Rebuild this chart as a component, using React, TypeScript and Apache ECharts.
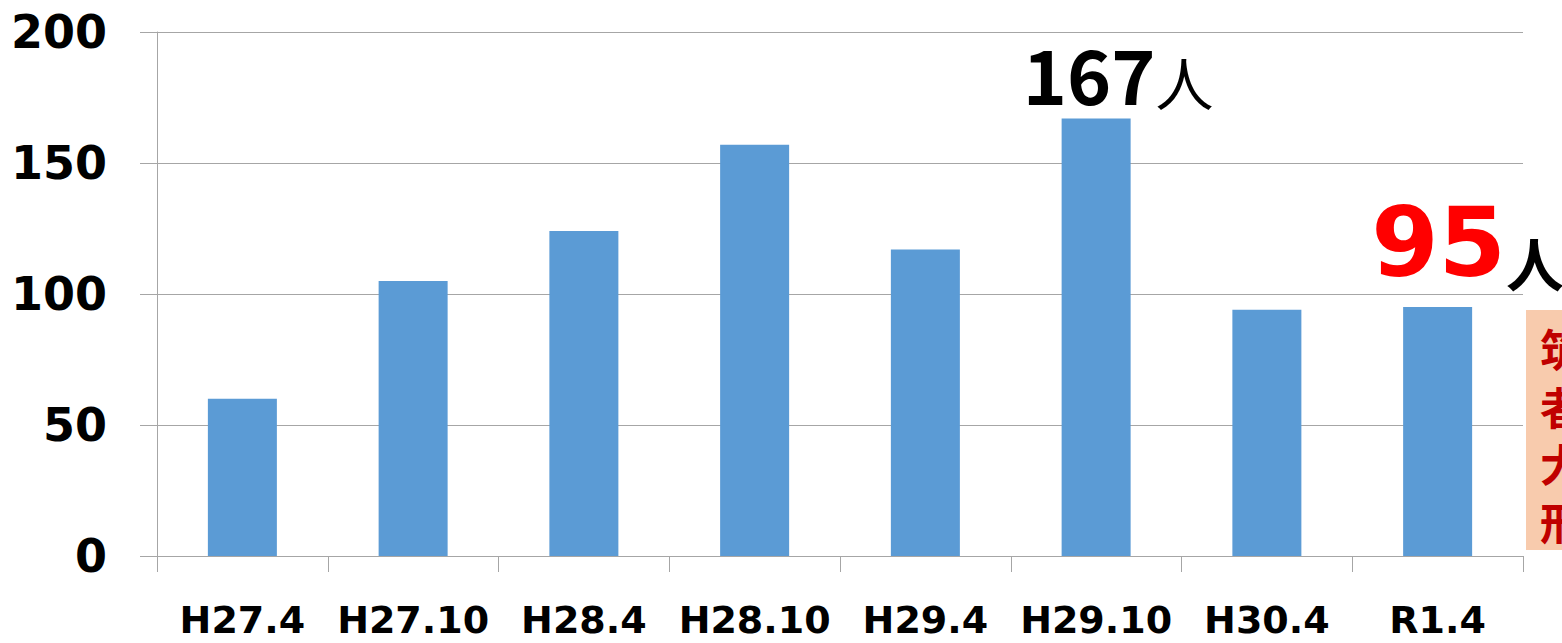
import React, { useEffect, useRef } from "react";
import * as echarts from "echarts";

const categories = ["H27.4", "H27.10", "H28.4", "H28.10", "H29.4", "H29.10", "H30.4", "R1.4"];
const values = [60, 105, 124, 157, 117, 167, 94, 95];
const yMin = 0;
const yMax = 200;
const yStep = 50;
const unitText = "人";
const peakIndex = 5;
const latestIndex = 7;
const boxChars = ["筑", "者", "大", "形"];

const GRAY = "#a6a6a6";

export default function App() {
  const ref = useRef<HTMLDivElement>(null);
  useEffect(() => {
    document.body.style.margin = "0";
    if (!ref.current) return;
    const chart = echarts.init(ref.current, undefined, { renderer: "svg" });

    const data = values.map((v, i) => {
      if (i === peakIndex) {
        return {
          value: v,
          label: {
            show: true,
            position: "top",
            distance: 8,
            offset: [22, 0],
            formatter: `{n|${v}}{u|${unitText}}`,
            rich: {
              n: {
                fontFamily: "Noto Sans CJK JP",
                fontWeight: "bold",
                fontSize: 75,
                lineHeight: 75,
                color: "#000",
                verticalAlign: "bottom",
              },
              u: {
                fontFamily: "Noto Sans CJK JP",
                fontWeight: "normal",
                fontSize: 58,
                lineHeight: 58,
                color: "#000",
                verticalAlign: "bottom",
              },
            },
          },
        };
      }
      if (i === latestIndex) {
        return {
          value: v,
          label: {
            show: true,
            position: "top",
            distance: 16,
            offset: [30, 0],
            formatter: `{n|${v}}{u|${unitText}}`,
            rich: {
              n: {
                fontFamily: "DejaVu Sans",
                fontWeight: "bold",
                fontSize: 97,
                lineHeight: 97,
                color: "#ff0000",
                verticalAlign: "bottom",
              },
              u: {
                fontFamily: "Noto Sans CJK JP",
                fontWeight: "bold",
                fontSize: 58,
                lineHeight: 58,
                color: "#000",
                verticalAlign: "bottom",
              },
            },
          },
        };
      }
      return v;
    });

    chart.setOption({
      animation: false,
      grid: { left: 157, right: 39, top: 32, bottom: 87, containLabel: false },
      xAxis: {
        type: "category",
        data: categories,
        boundaryGap: true,
        axisLine: { show: true, lineStyle: { color: GRAY, width: 1 } },
        axisTick: { show: true, length: 16, interval: 0, lineStyle: { color: GRAY, width: 1 } },
        axisLabel: {
          interval: 0,
          margin: 45,
          fontFamily: "DejaVu Sans",
          fontWeight: "bold",
          fontSize: 38,
          lineHeight: 38,
          color: "#000",
        },
      },
      yAxis: {
        type: "value",
        min: yMin,
        max: yMax,
        interval: yStep,
        axisLine: { show: true, lineStyle: { color: GRAY, width: 1 } },
        axisTick: { show: true, length: 17, lineStyle: { color: GRAY, width: 1 } },
        splitLine: { show: true, lineStyle: { color: GRAY, width: 1 } },
        axisLabel: {
          margin: 50,
          fontFamily: "DejaVu Sans",
          fontWeight: "bold",
          fontSize: 46,
          color: "#000",
        },
      },
      series: [
        {
          type: "bar",
          data,
          barWidth: 69,
          itemStyle: { color: "#5b9bd5" },
        },
      ],
      graphic: [
        {
          type: "rect",
          shape: { x: 1526, y: 310, width: 120, height: 240 },
          style: { fill: "#f8cbad" },
        },
        ...boxChars.map((c, i) => ({
          type: "text",
          x: 1540,
          y: 348 + i * 57.5,
          style: {
            text: c,
            fontFamily: "Noto Sans CJK JP",
            fontWeight: "bold",
            fontSize: 44,
            lineHeight: 46,
            fill: "#c00000",
            verticalAlign: "middle",
            align: "left",
          },
        })),
      ],
    });
    return () => chart.dispose();
  }, []);
  return <div ref={ref} style={{ width: 1562, height: 643 }} />;
}
